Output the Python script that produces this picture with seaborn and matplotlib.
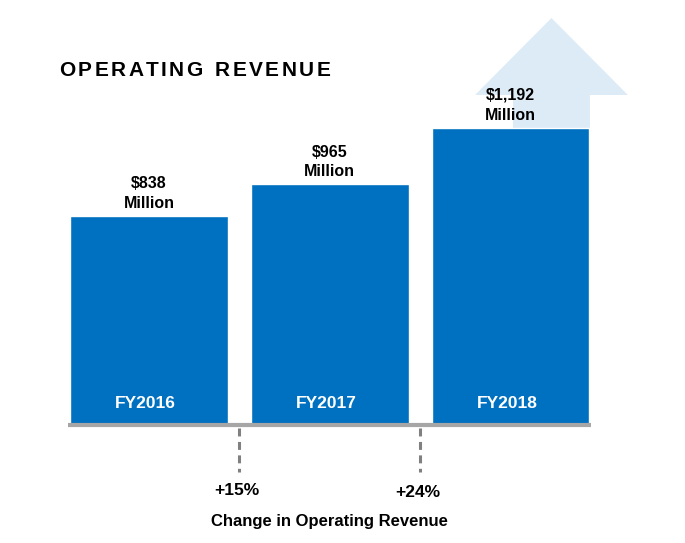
import matplotlib.pyplot as plt
import seaborn as sns
import pandas as pd
from matplotlib.patches import Polygon

# data
years = ['FY2016', 'FY2017', 'FY2018']
revenue = [838, 965, 1192]
rev_labels = ['$838\nMillion', '$965\nMillion', '$1,192\nMillion']
change_labels = ['+15%', '+24%']
title = 'OPERATING REVENUE'

blue = '#0070C0'
light = '#DDEBF7'

sns.set_theme(style='white')
plt.rcParams['font.family'] = ['Liberation Sans', 'DejaVu Sans']

df = pd.DataFrame({'year': years, 'revenue': revenue})

fig = plt.figure(figsize=(6.85, 5.43), dpi=100)
ax = fig.add_axes([0, 0, 1, 1])

bw = 0.873

# big arrow behind the last bar
cx = 2.227
top = revenue[2] * 1.369
base = revenue[2] * 1.11
arrow = Polygon([(cx - 0.213, 0), (cx - 0.213, base), (cx - 0.423, base), (cx, top),
                 (cx + 0.423, base), (cx + 0.213, base), (cx + 0.213, 0)],
                closed=True, facecolor=light, edgecolor='none', zorder=1)
ax.add_patch(arrow)

sns.barplot(data=df, x='year', y='revenue', color=blue, width=bw,
            saturation=1, ax=ax, zorder=2)
ax.set_xlim(-0.8246, 2.966)
ax.set_ylim(-473, 1704)
ax.axis('off')

# baseline
ax.plot([-bw / 2 - 0.011, 2 + bw / 2 + 0.011], [0, 0], color='#A6A6A6', lw=3,
        solid_capstyle='butt', zorder=3)

for i, (v, lab, yr) in enumerate(zip(revenue, rev_labels, years)):
    ax.text(i, v + 20, lab, ha='center', va='bottom', fontsize=11.5, fontweight='bold',
            color='black', linespacing=1.4, zorder=4)
    ax.text(i - 0.02, 88, yr, ha='center', va='center', fontsize=12.5, fontweight='bold',
            color='white', zorder=4)

for j, lab in enumerate(change_labels):
    xg = j + 0.5
    ax.plot([xg, xg], [-12, -188], color='#808080', lw=2.2, ls=(0, (2.6, 1.8)),
            zorder=3)
    ax.text(xg - 0.015, -262 - j * 8, lab, ha='center', va='center', fontsize=12.5,
            fontweight='bold', color='black')

ax.text(1.0, -385, 'Change in Operating Revenue', ha='center', va='center',
        fontsize=12, fontweight='bold', color='black')

# title with wide letter spacing, one glyph at a time
renderer = fig.canvas.get_renderer()
xpix = 59
for ch in title:
    t = fig.text(xpix / 685, 1 - 71 / 543, ch, ha='left', va='center',
                 fontsize=15, fontweight='bold', color='black')
    if ch == ' ':
        w = 7
    else:
        w = t.get_window_extent(renderer).width
    xpix += w + 2.5

fig.savefig('out.png', dpi=100)
